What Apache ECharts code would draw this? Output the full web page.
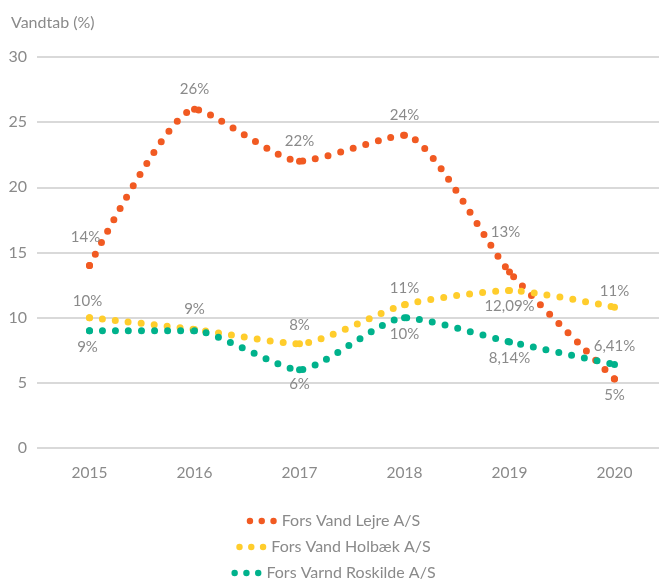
<!DOCTYPE html>
<html>
<head>
<meta charset="utf-8">
<script src="https://cdn.jsdelivr.net/npm/echarts@6/dist/echarts.min.js"></script>
<style>
  html, body { margin: 0; padding: 0; background: #fff; overflow: hidden; }
  #chart { width: 667px; height: 579px; }
</style>
</head>
<body>
<div id="chart"></div>
<script>
  var years = ["2015", "2016", "2017", "2018", "2019", "2020"];
  var names = ["Fors Vand Lejre A/S", "Fors Vand Holbæk A/S", "Fors Varnd Roskilde A/S"];
  var lejre = [14, 26, 22, 24, 13.5, 5.3];
  var holbaek = [10, 9.1, 8, 11, 12.09, 10.8];
  var roskilde = [9, 9, 6, 10, 8.14, 6.41];
  var lejreLabels = ["14%", "26%", "22%", "24%", "13%", "5%"];
  var holbaekLabels = ["10%", "9%", "8%", "11%", "12,09%", "11%"];
  var roskildeLabels = ["9%", "", "6%", "10%", "8,14%", "6,41%"];
  var yTicks = [0, 5, 10, 15, 20, 25, 30];

  var colors = ["#f15a22", "#ffcd2c", "#00b28c"];
  var grey = "#8a8a8a";
  var font = "Lato";

  // label placement per point: [position, offsetX, offsetY]
  var lejrePos = [["top", -4, -12], ["top", 0, -4], ["top", 0, -4], ["top", 0, -4], ["top", -4, -24], ["bottom", 0, 0]];
  var holbaekPos = [["top", -2, -1], ["top", 0, -4], ["top", 0, -3], ["top", 0, 0], ["bottom", 0, 0], ["top", 0, 0]];
  var roskildePos = [["bottom", -2, 0], ["bottom", 0, 0], ["bottom", 0, -2], ["bottom", 0, 0], ["bottom", 0, 0], ["top", 0, -2]];

  function buildData(values, labels, pos) {
    return values.map(function (v, i) {
      return {
        value: v,
        label: {
          show: labels[i] !== "",
          formatter: labels[i],
          position: pos[i][0],
          offset: [pos[i][1], pos[i][2]],
        },
      };
    });
  }

  function dotted(name, color, data) {
    return {
      name: name,
      type: "line",
      smooth: 0.2,
      symbol: "circle",
      symbolSize: 7,
      itemStyle: { color: color },
      lineStyle: {
        color: color,
        width: 7,
        type: [0, 13],
        cap: "round",
      },
      label: {
        color: grey,
        fontFamily: font,
        fontSize: 15,
      },
      data: data,
    };
  }

  var dotsIcon = "path://M3,0a3,3 0 1,0 0.01,0z M14,0a3,3 0 1,0 0.01,0z M25,0a3,3 0 1,0 0.01,0z";

  function legendRow(name, top) {
    return {
      left: "center",
      top: top,
      padding: [5, 0, 5, 9],
      data: [name],
      icon: dotsIcon,
      itemWidth: 30,
      itemHeight: 8,
      itemGap: 10,
      textStyle: { color: grey, fontFamily: font, fontSize: 16 },
    };
  }

  const charts = echarts.init(document.getElementById("chart"));
  const option = {
    backgroundColor: "#fff",
    color: colors,
    animation: false,
    title: {
      text: "Vandtab (%)",
      left: 6,
      top: 10,
      textStyle: { color: grey, fontFamily: font, fontSize: 16, fontWeight: "normal" },
    },
    legend: [legendRow(names[0], 508), legendRow(names[1], 534), legendRow(names[2], 560)],
    grid: {
      left: 37,
      right: 0,
      top: 57,
      bottom: 131,
    },
    xAxis: {
      type: "category",
      data: years,
      boundaryGap: true,
      axisLine: { show: false },
      axisTick: { show: false },
      axisLabel: { color: grey, fontFamily: font, fontSize: 15.5, margin: 17 },
    },
    yAxis: {
      type: "value",
      min: yTicks[0],
      max: yTicks[yTicks.length - 1],
      interval: 5,
      axisLine: { show: false },
      axisTick: { show: false },
      axisLabel: { color: grey, fontFamily: font, fontSize: 16, margin: 10 },
      splitLine: { lineStyle: { color: "#cccccc", width: 1.5 } },
    },
    series: [
      dotted(names[0], colors[0], buildData(lejre, lejreLabels, lejrePos)),
      dotted(names[1], colors[1], buildData(holbaek, holbaekLabels, holbaekPos)),
      dotted(names[2], colors[2], buildData(roskilde, roskildeLabels, roskildePos)),
    ],
  };
  charts.setOption(option);
</script>
</body>
</html>
